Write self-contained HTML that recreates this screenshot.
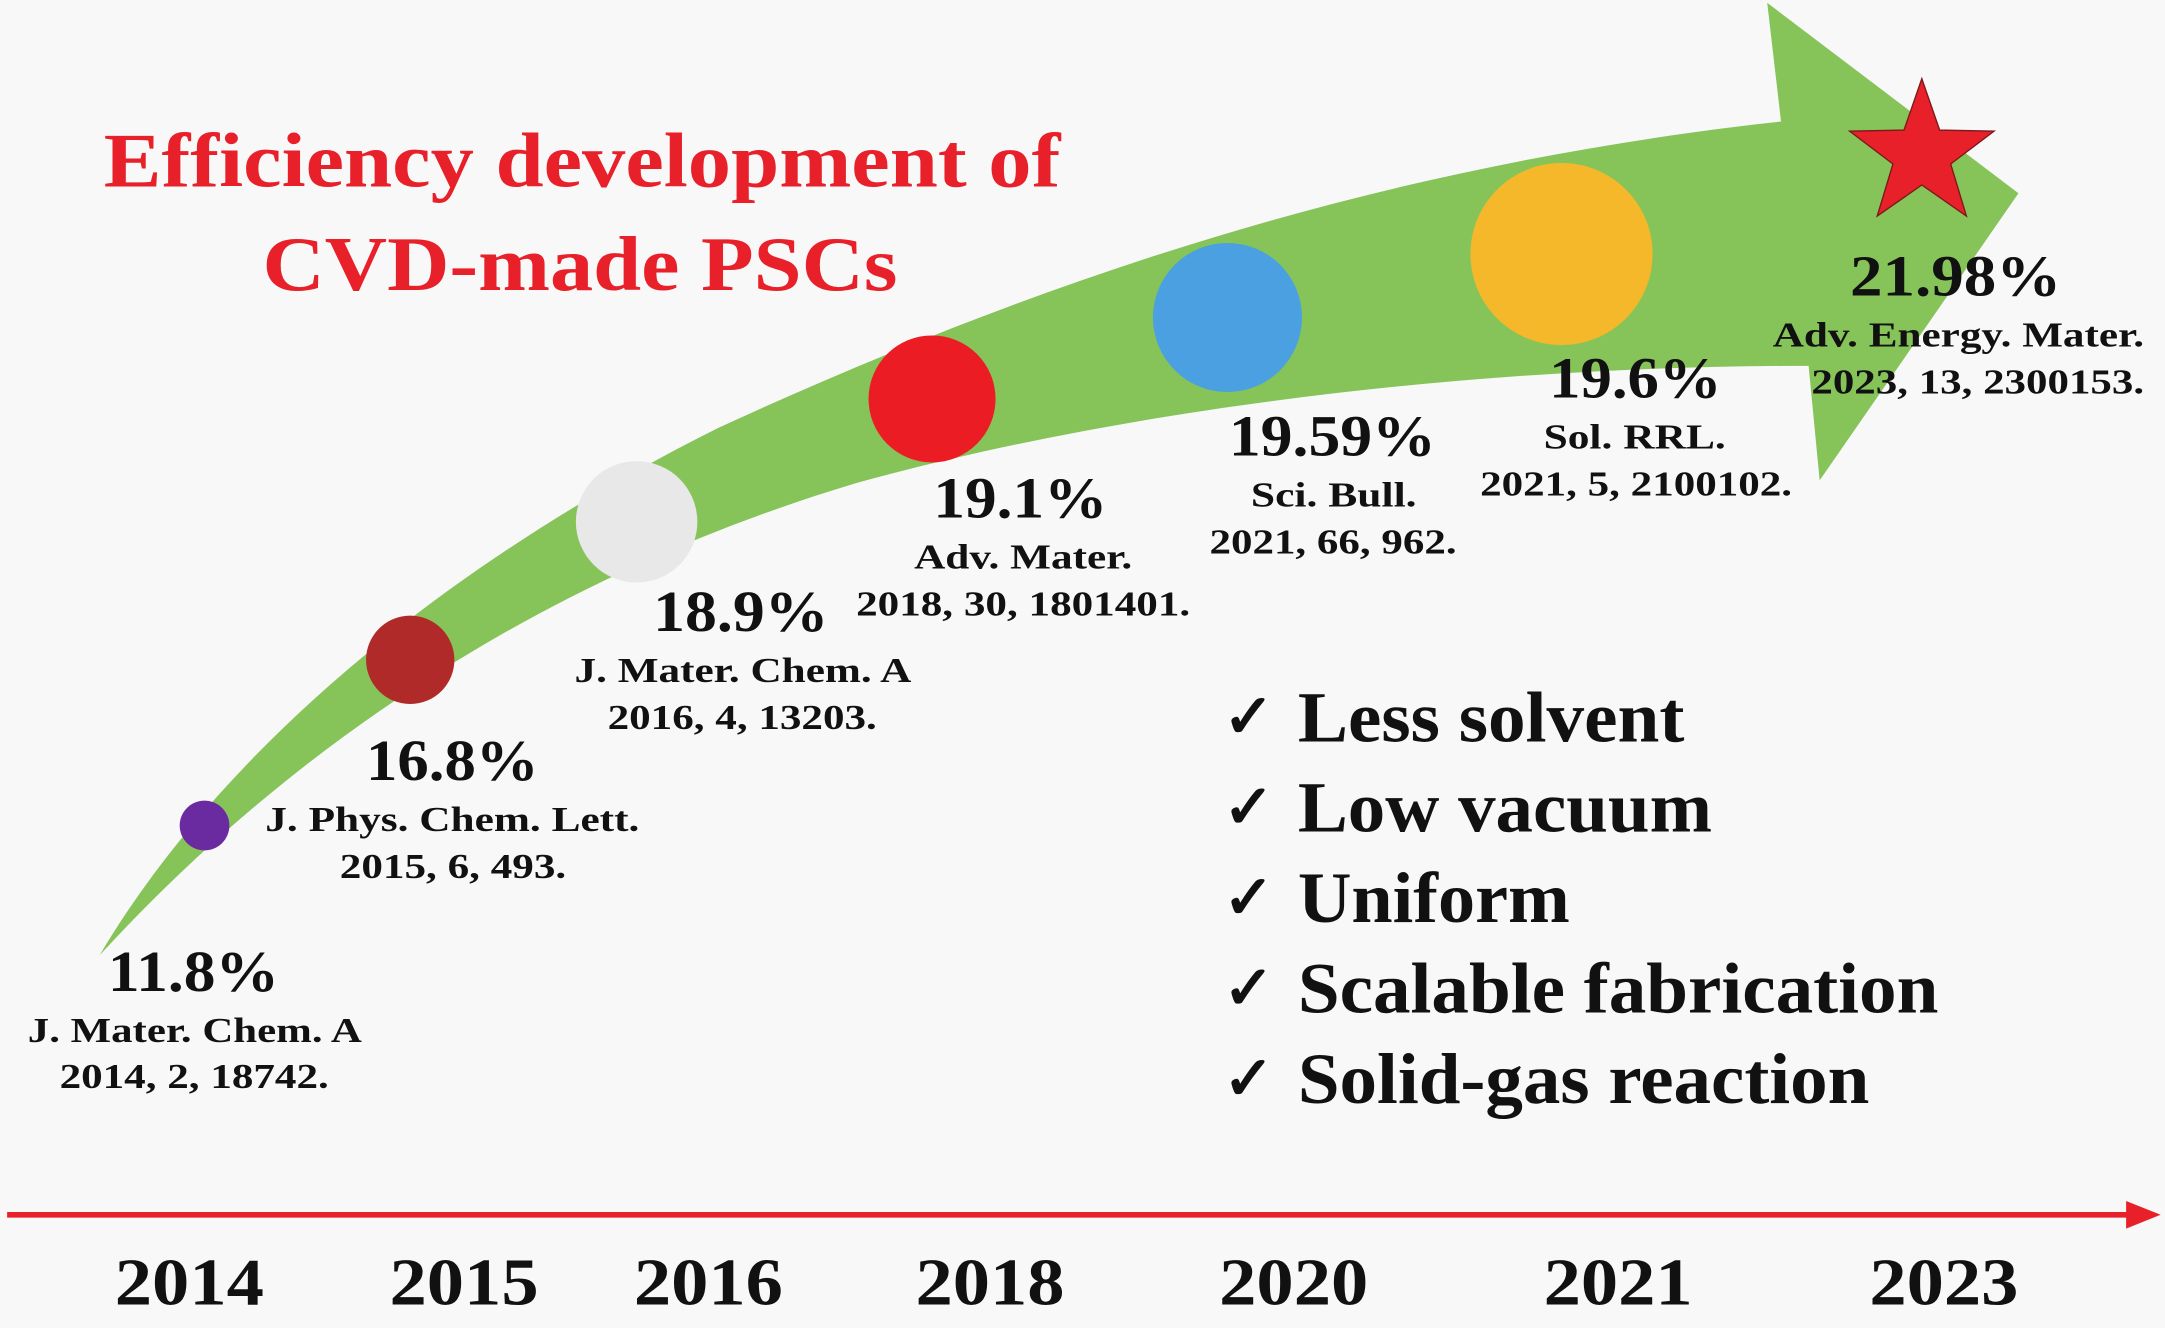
<!DOCTYPE html>
<html><head><meta charset="utf-8"><style>
html,body{margin:0;padding:0;background:#f8f8f8;}
svg{display:block;}
text{font-family:"Liberation Serif",serif;font-weight:bold;}
</style></head><body>
<svg id="chart" width="2165" height="1328" viewBox="0 0 1568 962" xmlns="http://www.w3.org/2000/svg">
<rect x="0" y="0" width="1568" height="962" fill="#f8f8f8"/>
<path fill="#86c45a" d="M72,692 C150,560 300,420 520,310 C760,200 1000,120 1290,88 L1280,2 L1462,140 L1318,348 L1310,265 C1050,265 800,300 620,350 C420,410 230,520 72,692 Z"/>
<g id="marks"></g>
<g id="labels"></g>
<g fill="#e8202a">
<text x="75" y="135" font-size="56" textLength="693" lengthAdjust="spacingAndGlyphs">Efficiency development of</text>
<text x="190" y="210" font-size="56" textLength="460" lengthAdjust="spacingAndGlyphs">CVD-made PSCs</text>
</g>
<g id="checks"></g>
<line x1="5" y1="880" x2="1548" y2="880" stroke="#e8202a" stroke-width="4"/>
<polygon points="1540,870 1565,880 1540,890" fill="#e8202a"/>
<g id="years"></g>
</svg>
<script>
const years = ["2014","2015","2016","2018","2020","2021","2023"];
const efficiencies = [11.8, 16.8, 18.9, 19.1, 19.59, 19.6, 21.98];
const effLabels = ["11.8%","16.8%","18.9%","19.1%","19.59%","19.6%","21.98%"];
const journals = ["J. Mater. Chem. A","J. Phys. Chem. Lett.","J. Mater. Chem. A","Adv. Mater.","Sci. Bull.","Sol. RRL.","Adv. Energy. Mater."];
const citations = ["2014, 2, 18742.","2015, 6, 493.","2016, 4, 13203.","2018, 30, 1801401.","2021, 66, 962.","2021, 5, 2100102.","2023, 13, 2300153."];
const markColors = ["#6a2aa0","#b02a2a","#e8e8e8","#ec1c24","#4aa0e0","#f4b82a","#e8202a"];
const features = ["Less solvent","Low vacuum","Uniform","Scalable fabrication","Solid-gas reaction"];

const NS="http://www.w3.org/2000/svg";
// layout (not data)
const markX=[148,297,461,675,889,1131,1392], markY=[598,478,378,289,230,184,112], markR=[18,32,44,46,54,66,55];
const effPos=[[78,718,124],[265,565,125],[473,457,127],[676,375,126],[890,330,150],[1122,288,125],[1340,214,153]];
const jPos=[[20,755,242],[192,602,271],[416,494,244],[662,412,158],[906,367,120],[1118,325,132],[1284,251,269]];
const cPos=[[43,788,195],[246,636,164],[440,528,195],[620,446,242],[876,401,179],[1072,359,226],[1312,285,241]];
const yearX=[137,336,513,717,937,1172,1408];
const featW=[280,300,197,464,414];

function t(parent,x,y,s,size,w,name,fill){
  const e=document.createElementNS(NS,"text");
  e.setAttribute("x",x);e.setAttribute("y",y);e.setAttribute("font-size",size);
  if(w){e.setAttribute("textLength",w);e.setAttribute("lengthAdjust","spacingAndGlyphs");}
  e.setAttribute("fill",fill||"#111");
  e.textContent=s;
  
  
  parent.appendChild(e);return e;
}
const marks=document.getElementById("marks"), labels=document.getElementById("labels");
efficiencies.forEach((v,i)=>{
  let m;
  if(i===efficiencies.length-1){
    m=document.createElementNS(NS,"polygon");
    let pts=[];
    for(let k=0;k<10;k++){const r=k%2?markR[i]*0.4:markR[i];const a=-Math.PI/2+k*Math.PI/5;pts.push((markX[i]+r*Math.cos(a)).toFixed(1)+","+(markY[i]+r*Math.sin(a)).toFixed(1));}
    m.setAttribute("points",pts.join(" "));
    m.setAttribute("stroke","#7a1a1a");m.setAttribute("stroke-width","1");
  } else {
    m=document.createElementNS(NS,"circle");
    m.setAttribute("cx",markX[i]);m.setAttribute("cy",markY[i]);m.setAttribute("r",markR[i]);
  }
  m.setAttribute("fill",markColors[i]);
  
  
  marks.appendChild(m);
  t(labels,effPos[i][0],effPos[i][1],effLabels[i],42,effPos[i][2],'efficiency-label-'+years[i]);
  t(labels,jPos[i][0],jPos[i][1],journals[i],25,jPos[i][2],'journal-label-'+years[i]);
  t(labels,cPos[i][0],cPos[i][1],citations[i],25,cPos[i][2],'citation-label-'+years[i]);
});
const checks=document.getElementById("checks");
features.forEach((f,i)=>{
  const y=537+i*65.5;
  t(checks,886,y-3,"✓",44,null,'checkmark-'+(i+1));
  t(checks,940,y,f,52,featW[i],'feature-'+f.toLowerCase().replace(/ /g,'-'));
});
const yg=document.getElementById("years");
years.forEach((y,i)=>{
  const e=t(yg,yearX[i]-54,945,y,48,108,'year-tick-'+y);
});
</script>
</body></html>
